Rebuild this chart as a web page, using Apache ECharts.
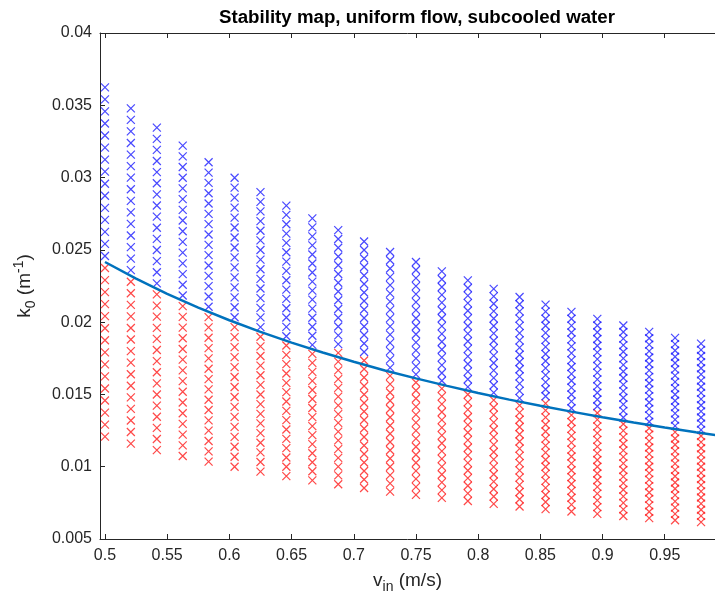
<!DOCTYPE html>
<html>
<head>
<meta charset="utf-8">
<script src="https://cdn.jsdelivr.net/npm/echarts@6/dist/echarts.min.js"></script>
<style>
  html, body { margin: 0; padding: 0; background: #ffffff; }
  #chart { width: 715px; height: 599px; }
</style>
</head>
<body>
<div id="chart"></div>
<script>
// Inlet velocity of each column of the parameter sweep (m/s)
const velocities = [0.5, 0.5208, 0.5417, 0.5625, 0.5833, 0.6042, 0.625, 0.6458,
  0.6667, 0.6875, 0.7083, 0.7292, 0.75, 0.7708, 0.7917, 0.8125, 0.8333, 0.8542,
  0.875, 0.8958, 0.9167, 0.9375, 0.9583, 0.9792];
// Lowest and highest k0 tested in each column (1/m)
const kLowest = [0.01208, 0.01160, 0.01115, 0.01074, 0.01035, 0.01000, 0.00966, 0.00935,
  0.00906, 0.00879, 0.00853, 0.00828, 0.00805, 0.00784, 0.00763, 0.00743, 0.00725, 0.00707,
  0.00690, 0.00674, 0.00659, 0.00644, 0.00630, 0.00617];
const kHighest = [0.03624, 0.03479, 0.03345, 0.03221, 0.03106, 0.02999, 0.02899, 0.02806,
  0.02718, 0.02636, 0.02558, 0.02485, 0.02416, 0.02351, 0.02289, 0.02230, 0.02174, 0.02121,
  0.02071, 0.02023, 0.01977, 0.01933, 0.01891, 0.01851];
// Number of k0 samples per column, and how many of them (from the bottom) are unstable
const pointsPerColumn = 30;
const unstableCount = [15, 15, 15, 15, 15, 15, 15, 15, 15, 16, 16, 15,
  15, 15, 15, 15, 15, 16, 15, 16, 15, 15, 15, 15];

// Neutral stability boundary k0(v_in)
const curveV = [0.5, 0.525, 0.55, 0.575, 0.6, 0.625, 0.65, 0.675, 0.7, 0.725, 0.75,
  0.775, 0.8, 0.825, 0.85, 0.875, 0.9, 0.925, 0.95, 0.975, 1.0];
const curveK = [0.02416, 0.02301, 0.02196, 0.02101, 0.02013, 0.01933, 0.01858, 0.01790,
  0.01726, 0.01666, 0.01611, 0.01559, 0.01510, 0.01464, 0.01421, 0.01381, 0.01342,
  0.01306, 0.01272, 0.01239, 0.01208];

// Axis ticks
const xTicks = [0.5, 0.55, 0.6, 0.65, 0.7, 0.75, 0.8, 0.85, 0.9, 0.95];

// Split the sampled grid into stable / unstable sets
const stablePts = [];
const unstablePts = [];
velocities.forEach((v, c) => {
  const step = (kHighest[c] - kLowest[c]) / (pointsPerColumn - 1);
  for (let i = 0; i < pointsPerColumn; i++) {
    const k = kLowest[c] + i * step;
    (i < unstableCount[c] ? unstablePts : stablePts).push([v, k]);
  }
});
const curve = curveV.map((v, i) => [v, curveK[i]]);

const ink = '#262626';
const font = 'Liberation Sans, Arial, Helvetica, sans-serif';
const cross = 'path://M0,0L10,10M10,0L0,10';
const xMin = 0.496, xMax = 0.9904;

const chart = echarts.init(document.getElementById('chart'), null, { renderer: 'canvas' });
chart.setOption({
  animation: false,
  backgroundColor: '#ffffff',
  title: {
    text: 'Stability map, uniform flow, subcooled water',
    left: 412, top: 3, textAlign: 'center',
    textStyle: { fontFamily: font, fontSize: 18.7, fontWeight: 'bold', color: '#000000' }
  },
  grid: { left: 100, width: 615, top: 33, bottom: 60, containLabel: false },
  xAxis: [{
    type: 'value', min: xMin, max: xMax, position: 'bottom',
    name: '{t|v}{sub|in}{t| (m/s)}', nameLocation: 'middle', nameGap: 29,
    nameTextStyle: {
      rich: {
        t: { fontFamily: font, fontSize: 19, color: ink },
        sub: { fontFamily: font, fontSize: 14, color: ink, padding: [12, 0, 0, 0] }
      }
    },
    axisLine: { lineStyle: { color: ink, width: 1 } },
    axisTick: { inside: true, length: 5, customValues: xTicks, lineStyle: { color: ink } },
    axisLabel: { customValues: xTicks, margin: 9, fontFamily: font, fontSize: 16, color: ink },
    splitLine: { show: false }
  }, {
    type: 'value', min: xMin, max: xMax, position: 'top',
    axisLine: { lineStyle: { color: ink, width: 1 } },
    axisTick: { inside: true, length: 5, customValues: xTicks, lineStyle: { color: ink } },
    axisLabel: { show: false },
    splitLine: { show: false }
  }],
  yAxis: {
    type: 'value', min: 0.005, max: 0.04, interval: 0.005,
    name: '{t|k}{sub|0}{t| (m}{sup|-1}{t|)}', nameLocation: 'middle', nameGap: 62,
    nameTextStyle: {
      rich: {
        t: { fontFamily: font, fontSize: 19, color: ink },
        sub: { fontFamily: font, fontSize: 14, color: ink, padding: [12, 0, 0, 0] },
        sup: { fontFamily: font, fontSize: 14, color: ink, padding: [0, 0, 12, 0] }
      }
    },
    axisLine: { show: true, lineStyle: { color: ink, width: 1 } },
    axisTick: { show: true, inside: true, length: 5, lineStyle: { color: ink } },
    axisLabel: { margin: 8, fontFamily: font, fontSize: 16, color: ink },
    splitLine: { show: false }
  },
  series: [{
    type: 'scatter', name: 'unstable', data: unstablePts,
    symbol: cross, symbolSize: 8,
    itemStyle: { color: '#ff0000', borderColor: '#ff1a1a', borderWidth: 1.2 },
    emphasis: { disabled: true }, z: 2
  }, {
    type: 'scatter', name: 'stable', data: stablePts,
    symbol: cross, symbolSize: 8,
    itemStyle: { color: '#0000ff', borderColor: '#1a1aff', borderWidth: 1.2 },
    emphasis: { disabled: true }, z: 2
  }, {
    type: 'line', name: 'boundary', data: curve,
    showSymbol: false, smooth: false,
    lineStyle: { color: '#0072BD', width: 2.5 },
    emphasis: { disabled: true }, z: 3
  }]
});
</script>
</body>
</html>
